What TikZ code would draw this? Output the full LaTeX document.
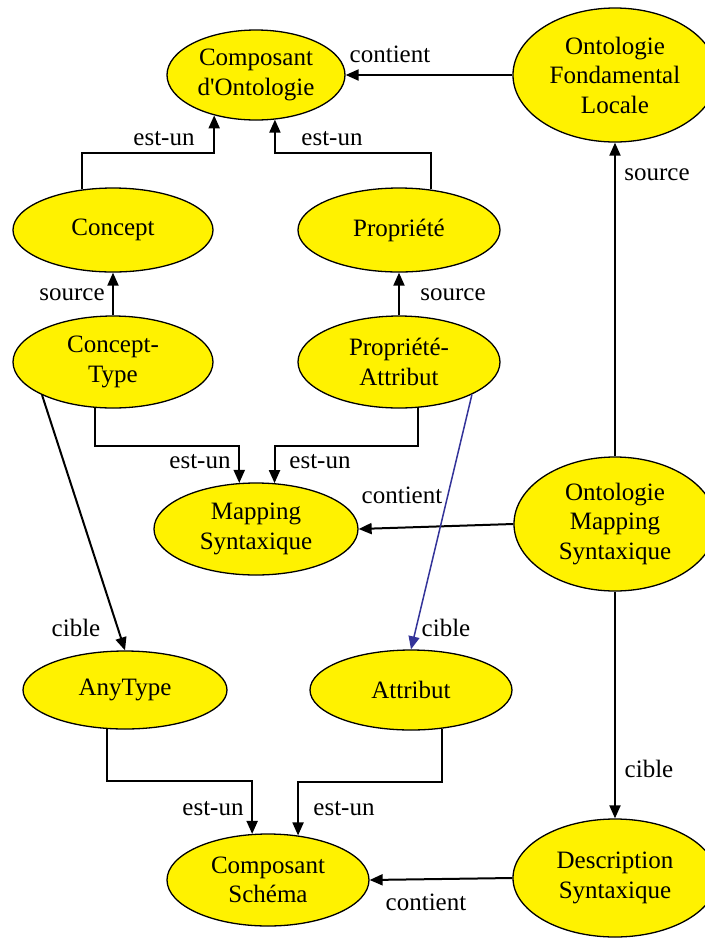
\documentclass[tikz,border=0pt]{standalone}
\usepackage{fontspec}
\setmainfont{Liberation Serif}
\usetikzlibrary{shapes.geometric,arrows.meta}
\definecolor{lienbleu}{RGB}{51,51,153}

\begin{document}
\begin{tikzpicture}[x=0.5pt, y=-0.5pt,
    classe/.style={ellipse, draw, line width=0.65pt, fill=yellow, inner sep=0pt,
        align=center, font=\fontsize{12.5}{14.75}\selectfont},
    lien/.style={line width=1pt, -{Triangle[length=6.5pt,width=5.5pt]}},
    etiq/.style={anchor=base, inner sep=0pt, font=\fontsize{12.5}{14.75}\selectfont}]
    \useasboundingbox (0,0) rectangle (705,939);

    % Ellipses
    \node[classe, minimum width=89pt, minimum height=45pt] (compOnt) at (256,75) {Composant\\d\textquotesingle Ontologie};
    \node[classe, minimum width=102pt, minimum height=67pt] (ontFond) at (615,75) {Ontologie\\Fondamental\\Locale};
    \node[classe, minimum width=100pt, minimum height=42pt] (concept) at (113,230) {Concept};
    \node[classe, minimum width=101pt, minimum height=42pt] (propriete) at (399,230) {Propriété};
    \node[classe, minimum width=100pt, minimum height=46pt] (conceptType) at (113,362) {Concept-\\Type};
    \node[classe, minimum width=101pt, minimum height=46pt] (propAttr) at (399,362) {Propriété-\\Attribut};
    \node[classe, minimum width=102pt, minimum height=46pt] (mapping) at (256,529) {Mapping\\Syntaxique};
    \node[classe, minimum width=101pt, minimum height=67pt] (ontMapping) at (615,524) {Ontologie\\Mapping\\Syntaxique};
    \node[classe, minimum width=102pt, minimum height=39pt] (anyType) at (125,690) {AnyType};
    \node[classe, minimum width=101pt, minimum height=40pt] (attribut) at (411,690) {Attribut};
    \node[classe, minimum width=101pt, minimum height=46pt] (compSchema) at (268,880) {Composant\\Schéma};
    \node[classe, minimum width=102pt, minimum height=59pt] (descSynt) at (615,878) {Description\\Syntaxique};

    % Liens
    \draw[lien] (ontFond.west) -- (compOnt.east);
    \draw[lien] (concept.127) -- (concept.127 |- 0,153) -| (compOnt.224);
    \draw[lien] (propriete.52) -- (propriete.52 |- 0,153) -| (compOnt.293);
    \draw[lien] (conceptType.north) -- (concept.south);
    \draw[lien] (propAttr.north) -- (propriete.south);
    \draw[lien] (ontMapping.north) -- (ontFond.south);
    \draw[lien] (conceptType.249) -- (conceptType.249 |- 0,446) -| (mapping.110);
    \draw[lien] (propAttr.293) -- (propAttr.293 |- 0,446) -| (mapping.68);
    \draw[lien] (ontMapping.west) -- (mapping.east);
    \draw[lien] (conceptType.205) -- (anyType.north);
    \draw[lien, lienbleu, line width=0.75pt] (propAttr.336) -- (attribut.north);
    \draw[lien] (anyType.245) -- (anyType.245 |- 0,781) -| (compSchema.109);
    \draw[lien] (attribut.309) -- (attribut.309 |- 0,782) -| (compSchema.56);
    \draw[lien] (ontMapping.south) -- (descSynt.north);
    \draw[lien] (descSynt.west) -- (compSchema.east);

    % Etiquettes
    \node[etiq] (etContient1) at (390,62) {contient};
    \node[etiq] (etEstUn1) at (164,145) {est-un};
    \node[etiq] (etEstUn2) at (332,145) {est-un};
    \node[etiq] (etSource1) at (72,300) {source};
    \node[etiq] (etSource2) at (453,300) {source};
    \node[etiq] (etSource3) at (657,180) {source};
    \node[etiq] (etEstUn3) at (200,468) {est-un};
    \node[etiq] (etEstUn4) at (320,468) {est-un};
    \node[etiq] (etContient2) at (402,503) {contient};
    \node[etiq] (etCible1) at (76,636) {cible};
    \node[etiq] (etCible2) at (446,636) {cible};
    \node[etiq] (etCible3) at (649,777) {cible};
    \node[etiq] (etEstUn5) at (213,815) {est-un};
    \node[etiq] (etEstUn6) at (344,815) {est-un};
    \node[etiq] (etContient3) at (426,910) {contient};
\end{tikzpicture}
\end{document}
